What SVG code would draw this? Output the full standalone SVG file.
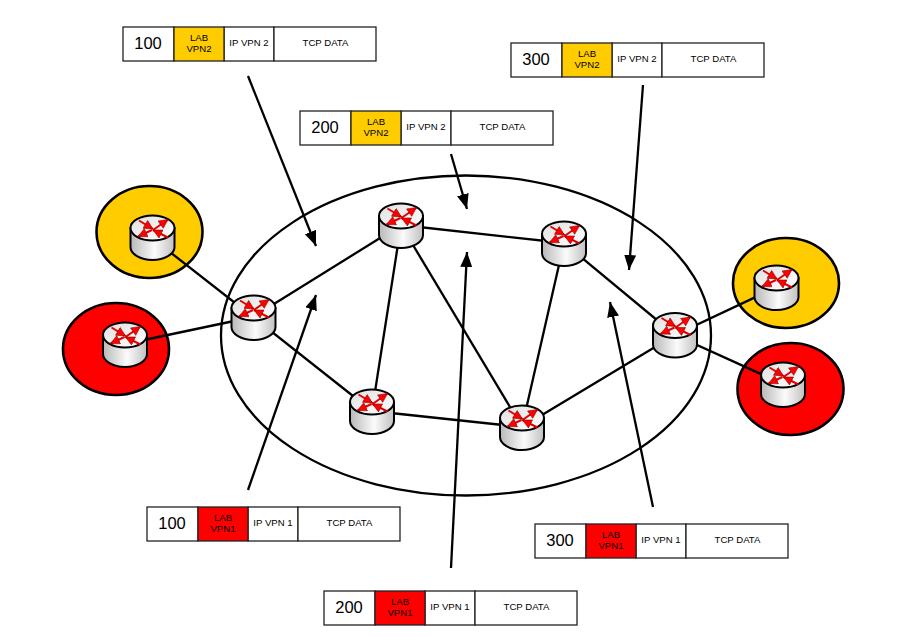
<svg xmlns="http://www.w3.org/2000/svg" width="918" height="637" viewBox="0 0 918 637">
<style>
.site{stroke:#000;stroke-width:2.6}
.yel{fill:#ffcc00}.red{fill:#ff0000}.wh{fill:#fff}
.cell{stroke:#222;stroke-width:1.3}
.link{stroke:#000;stroke-width:2.300;fill:none}
.arr{stroke:#000;stroke-width:2.300;fill:none;marker-end:url(#ah)}
text{font-family:"Liberation Sans",Arial,sans-serif;fill:#000;text-anchor:middle}
.big{font-size:16.5px}.sm{font-size:9.600px}
.ra{stroke:#e00000;stroke-width:2;fill:none;marker-end:url(#rh)}
</style>
<defs>
<marker id="ah" markerUnits="userSpaceOnUse" markerWidth="16" markerHeight="14" refX="15" refY="6" orient="auto"><path d="M0 0L15 6L0 12Z" fill="#000"/></marker>
<marker id="rh" markerUnits="userSpaceOnUse" markerWidth="11" markerHeight="11" refX="9.500" refY="5" orient="auto"><path d="M0.500 0.500L9.500 5L0.500 9.500Z" fill="#f00" stroke="#700" stroke-width=".5"/></marker>
<linearGradient id="body" x1="0" x2="1" y1="0" y2="0"><stop offset="0" stop-color="#b8b8b8"/><stop offset=".55" stop-color="#fbfbfb"/><stop offset="1" stop-color="#c0c0c0"/></linearGradient>
<linearGradient id="top" x1="0" x2="1" y1="0" y2="1"><stop offset="0" stop-color="#e0e0e0"/><stop offset="1" stop-color="#fff"/></linearGradient>
<g id="rt">
<path d="M-22 13V32A22 13 0 0 0 22 32V13Z" fill="url(#body)" stroke="#000" stroke-width="2"/>
<ellipse cx="0" cy="13" rx="22" ry="12.500" fill="url(#top)" stroke="#000" stroke-width="2"/>
<path class="ra" d="M-13.500 5.500L0.500 14"/>
<path class="ra" d="M0.500 15L15.500 4.500"/>
<path class="ra" d="M15.500 22.500L0.500 15"/>
<path class="ra" d="M-0.500 15L-14.500 21.500"/>
</g>
<g id="pkt">
<rect class="wh cell" x="0" y="0" width="51" height="34"/>
<rect class="wh cell" x="101" y="0" width="50" height="34"/>
<rect class="wh cell" x="151" y="0" width="102" height="34"/>
</g>
</defs>

<rect width="918" height="637" fill="#fff"/>

<g id="site-yellow-left"><ellipse class="site yel" cx="149.500" cy="232" rx="53" ry="46"/></g>
<g id="site-red-left"><ellipse class="site red" cx="116" cy="349" rx="53" ry="46"/></g>
<g id="site-yellow-right"><ellipse class="site yel" cx="786" cy="283" rx="53" ry="45"/></g>
<g id="site-red-right"><ellipse class="site red" cx="790.500" cy="389" rx="53" ry="46"/></g>
<g id="backbone"><ellipse cx="466" cy="335.500" rx="245" ry="160" fill="none" stroke="#000" stroke-width="2.300"/></g>

<g id="connectors">
<path class="link" d="M152 238L253 317"/>
<path class="link" d="M125 344L253 317"/>
<path class="link" d="M253 317L401 225"/>
<path class="link" d="M253 317L372 411"/>
<path class="link" d="M401 225L564 243"/>
<path class="link" d="M401 225L372 411"/>
<path class="link" d="M401 225L522 427"/>
<path class="link" d="M372 411L522 427"/>
<path class="link" d="M564 243L522 427"/>
<path class="link" d="M564 243L675 335"/>
<path class="link" d="M522 427L675 335"/>
<path class="link" d="M675 335L777 287"/>
<path class="link" d="M675 335L783 384"/>
<path class="arr" d="M248 76L316 246"/>
<path class="arr" d="M451 154L467 209"/>
<path class="arr" d="M643 85L629 270"/>
<path class="arr" d="M248 490L316 295"/>
<path class="arr" d="M451 568L467 252"/>
<path class="arr" d="M653 507L610 302"/>
</g>

<g id="router-yl"><use href="#rt" x="152.500" y="215"/></g>
<g id="router-rl"><use href="#rt" x="125" y="322"/></g>
<g id="router-1"><use href="#rt" x="253.500" y="295"/></g>
<g id="router-2"><use href="#rt" x="401" y="203"/></g>
<g id="router-3"><use href="#rt" x="564" y="221"/></g>
<g id="router-4"><use href="#rt" x="675" y="312.500"/></g>
<g id="router-5"><use href="#rt" x="522" y="405"/></g>
<g id="router-6"><use href="#rt" x="372" y="389"/></g>
<g id="router-yr"><use href="#rt" x="776.500" y="265"/></g>
<g id="router-rr"><use href="#rt" x="783" y="362"/></g>

<g id="pkt-100-vpn2" transform="translate(123 27)"><use href="#pkt"/><rect class="yel cell" x="51" y="0" width="50" height="34"/><text class="big" x="25" y="22">100</text><text class="sm" x="76" y="14">LAB</text><text class="sm" x="76" y="25">VPN2</text><text class="sm" x="126" y="19">IP VPN 2</text><text class="sm" x="202.500" y="19">TCP DATA</text></g>
<g id="pkt-300-vpn2" transform="translate(511 43)"><use href="#pkt"/><rect class="yel cell" x="51" y="0" width="50" height="34"/><text class="big" x="25" y="22">300</text><text class="sm" x="76" y="14">LAB</text><text class="sm" x="76" y="25">VPN2</text><text class="sm" x="126" y="19">IP VPN 2</text><text class="sm" x="202.500" y="19">TCP DATA</text></g>
<g id="pkt-200-vpn2" transform="translate(300 111)"><use href="#pkt"/><rect class="yel cell" x="51" y="0" width="50" height="34"/><text class="big" x="25" y="22">200</text><text class="sm" x="76" y="14">LAB</text><text class="sm" x="76" y="25">VPN2</text><text class="sm" x="126" y="19">IP VPN 2</text><text class="sm" x="202.500" y="19">TCP DATA</text></g>
<g id="pkt-100-vpn1" transform="translate(147 507)"><use href="#pkt"/><rect class="red cell" x="51" y="0" width="50" height="34"/><text class="big" x="25" y="22">100</text><text class="sm" x="76" y="14">LAB</text><text class="sm" x="76" y="25">VPN1</text><text class="sm" x="126" y="19">IP VPN 1</text><text class="sm" x="202.500" y="19">TCP DATA</text></g>
<g id="pkt-300-vpn1" transform="translate(535 524)"><use href="#pkt"/><rect class="red cell" x="51" y="0" width="50" height="34"/><text class="big" x="25" y="22">300</text><text class="sm" x="76" y="14">LAB</text><text class="sm" x="76" y="25">VPN1</text><text class="sm" x="126" y="19">IP VPN 1</text><text class="sm" x="202.500" y="19">TCP DATA</text></g>
<g id="pkt-200-vpn1" transform="translate(324 591)"><use href="#pkt"/><rect class="red cell" x="51" y="0" width="50" height="34"/><text class="big" x="25" y="22">200</text><text class="sm" x="76" y="14">LAB</text><text class="sm" x="76" y="25">VPN1</text><text class="sm" x="126" y="19">IP VPN 1</text><text class="sm" x="202.500" y="19">TCP DATA</text></g>
</svg>
